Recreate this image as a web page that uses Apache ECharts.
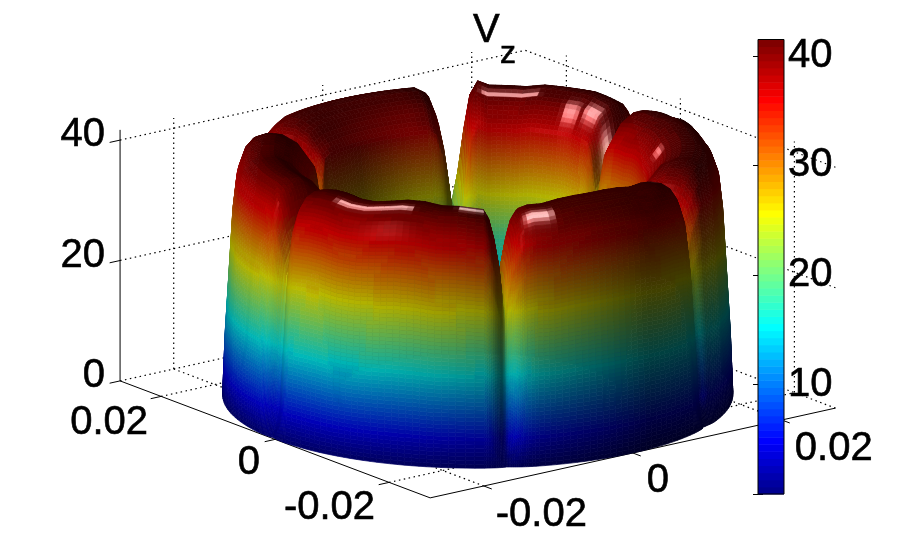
<!DOCTYPE html>
<html><head><meta charset="utf-8">
<style>html,body{margin:0;padding:0;background:#fff}#c{width:922px;height:558px}</style>
<script src="https://cdn.jsdelivr.net/npm/echarts@6/dist/echarts.min.js"></script>
</head><body><div id="c"></div>
<script>
// ---- values ----
const xTicks = [-0.02, 0, 0.02];
const yTicks = [-0.02, 0, 0.02];
const zTicks = [0, 20, 40];
const axisLimit = 0.0272;
const ringRadius = 0.0272;
// angle around the ring (0 = right of picture, 90 = back, 270 = front)
const thetaDeg = [0,5,10,15,20,25,30,35,
 40,41.5,42.8,44,45,46,47.2,48.5,50,
 54,58,62,67,72,77,82,87,90,
 92,93.5,95,96.5,98,99,100.5,102,104,
 107,112,117,122,127,132,137,142,148,
 154,155.5,156.8,158,159,160,161.2,162.5,164,
 167,171,175,180,185,190,195,200,205,208,
 211,212.5,213.8,215,216,217,218.2,219.5,221,
 226,230,235,240,245,250,255,260,265,
 271.5,273,274.3,275.5,276.5,277.5,278.7,280,281.5,
 284,288,293,298,303,308,313,318,323,
 328,329.5,330.8,332,333,334,335.2,336.5,338,
 342,346,350,355];
// crest height of the velocity at each angle
const rimZ = [41,41,41,41,41.5,41.5,41,41,
 40.5,39,36,32,22,32,36,39,40.5,
 41,41.5,41.5,41.5,41.5,41,41,41,41.7,
 39.5,34,27,22,22,27,33,37,40,
 41,41,41,41,41,41,41,41,41,
 40.5,39,36,32,24,32,36,39,40.5,
 41,41.5,41,40.5,40.5,41,41,41,41,41,
 40.5,39,36,32,26,32,36,39,40.5,
 41,41,40.5,40.5,41,41.5,41.5,41,41,
 40.5,39,36,32,26,32,36,39,40.5,
 41,41,41.5,41.7,41.7,41.7,41.5,41,41,
 40.5,39,36,32,24,32,36,39,40.5,
 41,41.5,41,41];
// outer wall radius (fraction of ringRadius) at each angle
const outerR = [1,1,1,1,1,1,1,1,
 .995,.992,.99,.985,.975,.985,.99,.992,.995,
 1,1,1,1,1,1,1,1,1,
 .995,.99,.985,.98,.98,.985,.99,.995,1,
 1,1,1,1,1,1,1,1,1,
 .995,.992,.99,.985,.975,.985,.99,.992,.995,
 1,1,1,1,1,1,1,1,1,1,
 .998,.995,.99,.98,.962,.975,.985,.993,.998,
 1,1,1,1,1,1,1,1,1,
 .998,.995,.99,.98,.96,.968,.98,.99,.996,
 1,1,1,1,1,1,1,1,1,
 .998,.995,.99,.985,.955,.965,.975,.99,1,
 1,1,1,1];
// height-fraction / radius-fraction profile going from outer edge over the crest to the hole
const profZ = [0,.25,.5,.75,.88,.95,.985,1,1,.97,.88,.6,.3,0];
const profR = [1,.99,.975,.96,.945,.92,.89,.85,.80,.74,.67,.63,.60,.56];
// small bright spots on the crest: from angle, to angle, radius fraction, strength, radial width
const glints = [[232,252,.875,.8,.012],[266,270,.83,.8,.02],[283,288,.89,.8,.02],[44,47,.74,.6,.03],[51,54,.74,.7,.03],[58,61,.72,.6,.03],[73,88,.775,.7,.012],[8,12,.72,.5,.015],[329,332,.82,.6,.015]];

// ---- view ----
const cx=477.75, cy=394.5, pxX=[7450,-1650], pxY=[-5700,-2150], pxZ=6.02;
const project=(x,y,z)=>[cx+x*pxX[0]+y*pxY[0], cy+x*pxX[1]+y*pxY[1]-z*pxZ];
const el=Math.asin(73.7/255), sinE=Math.sin(el), cosE=Math.cos(el), azim=37.4, colorMax=41.5;
const rad=d=>d*Math.PI/180;
const clamp01=v=>Math.max(0,Math.min(1,v));
function jet(k){ // MATLAB jet(64), k in 0..63
  const v=(k+1)/64*4;
  return [clamp01(Math.min(v-1.5,4.5-v)),clamp01(Math.min(v-.5,3.5-v)),clamp01(Math.min(v+.5,2.5-v))];
}
const rgb=(a)=>'rgb('+a.map(v=>Math.round(clamp01(v)*255)).join(',')+')';

// ---- mesh built from the arrays ----
const rowsZ=[],rowsR=[];
for(let s=0;s<profZ.length-1;s++){
  const n=Math.max(3,Math.ceil(Math.abs(profZ[s+1]-profZ[s])*64));
  for(let k=0;k<n;k++){const f=k/n;rowsZ.push(profZ[s]+(profZ[s+1]-profZ[s])*f);rowsR.push(profR[s]+(profR[s+1]-profR[s])*f);}
}
rowsZ.push(profZ[profZ.length-1]);rowsR.push(profR[profR.length-1]);
const nT=thetaDeg.length,nR=rowsZ.length,zIso=pxZ/cosE,aIso=255;
const grid=[];
for(let i=0;i<nT;i++){grid.push([]);for(let j=0;j<nR;j++){
  const t=rad(thetaDeg[i]),dent=(1-outerR[i])*Math.min(1,.25+rowsZ[j]*5),r=(1-dent)*rowsR[j],z=rimZ[i]*rowsZ[j];
  grid[i].push({t:thetaDeg[i],rf:r,z:z,X:aIso*r*Math.cos(t),Y:aIso*r*Math.sin(t),Zw:z*zIso});
}}
for(let i=0;i<nT;i++)for(let j=0;j<nR;j++){
  const a=grid[(i+1)%nT][j],b=grid[(i-1+nT)%nT][j],c=grid[i][Math.min(j+1,nR-1)],d=grid[i][Math.max(j-1,0)];
  const u=[a.X-b.X,a.Y-b.Y,a.Zw-b.Zw],v=[c.X-d.X,c.Y-d.Y,c.Zw-d.Zw];
  let n=[u[1]*v[2]-u[2]*v[1],u[2]*v[0]-u[0]*v[2],u[0]*v[1]-u[1]*v[0]];
  const l=Math.hypot(n[0],n[1],n[2])||1;grid[i][j].n0=n.map(q=>q/l);
}
for(let i=0;i<nT;i++)for(let j=0;j<nR;j++){
  const a=grid[(i+1)%nT][j].n0,b=grid[(i-1+nT)%nT][j].n0,c=grid[i][j].n0;
  let n=[0,1,2].map(q=>a[q]+b[q]+2*c[q]);const l=Math.hypot(...n)||1;grid[i][j].n=n.map(q=>q/l);
}
const tL=rad(222),eL=rad(22);
const L=[Math.cos(tL)*Math.cos(eL),Math.sin(tL)*Math.cos(eL),Math.sin(eL)];
const V=[0,-cosE,sinE];
let H=[L[0]+V[0],L[1]+V[1],L[2]+V[2]];const hl=Math.hypot(...H);H=H.map(q=>q/hl);
const dot=(a,b)=>a[0]*b[0]+a[1]*b[1]+a[2]*b[2];
const ka=.25,kd=.5,ks=.1,shin=200;
const toScreen=p=>{const ph=rad(p.t-azim),r=p.rf*ringRadius;return project(r*Math.cos(ph),r*Math.sin(ph),p.z);};
const lerpP=(a,b,f,tb)=>({t:a.t+(tb-a.t)*f,rf:a.rf+(b.rf-a.rf)*f,z:a.z+(b.z-a.z)*f,Y:a.Y+(b.Y-a.Y)*f,Zw:a.Zw+(b.Zw-a.Zw)*f,
  n:[a.n[0]+(b.n[0]-a.n[0])*f,a.n[1]+(b.n[1]-a.n[1])*f,a.n[2]+(b.n[2]-a.n[2])*f]});
function glintAt(t,rf,z){
  if(z<30)return 0;let g=0;
  glints.forEach(q=>{const tw=q[1]-q[0],tc=(q[0]+q[1])/2;
    const e=Math.max(0,Math.abs(t-tc)-tw/2)/1.2,dr=(rf-q[2])/q[4];
    g=Math.max(g,q[3]*Math.exp(-e*e-dr*dr));});
  return g;
}
const cells=[];
const sub=3;
for(let i=0;i<nT;i++){
  const i2=(i+1)%nT,t2=thetaDeg[i2]+(i2===0?360:0);
  for(let s=0;s<sub;s++){
    const f0=s/sub,f1=(s+1)/sub;
    for(let j=0;j<nR-1;j++){
      const p00=lerpP(grid[i][j],grid[i2][j],f0,t2),p10=lerpP(grid[i][j],grid[i2][j],f1,t2),
            p01=lerpP(grid[i][j+1],grid[i2][j+1],f0,t2),p11=lerpP(grid[i][j+1],grid[i2][j+1],f1,t2);
      let n=[0,1,2].map(q=>p00.n[q]+p10.n[q]+p01.n[q]+p11.n[q]);const l=Math.hypot(...n)||1;n=n.map(q=>q/l);
      if(dot(n,V)<-0.25)continue;
      const z=(p00.z+p10.z+p01.z+p11.z)/4;
      const k=Math.min(63,Math.floor(z/colorMax*64));
      const diff=Math.max(0,dot(n,L)),sp=Math.pow(Math.max(0,dot(n,H)),shin);
      const gl=glintAt((p00.t+p11.t)/2,(p00.rf+p11.rf)/2,z);
      const base=jet(k).map(c=>c*(ka+kd*diff)+ks*sp+gl);
      const depth=(p00.Y+p11.Y)/2*cosE-(p00.Zw+p11.Zw)/2*sinE;
      cells.push({d:depth,c:rgb(base),p:[p00,p10,p11,p01].map(toScreen)});
    }
  }
}
cells.sort((a,b)=>b.d-a.d);
const surfaceData=cells.map((c,i)=>[i]);

// ---- frame ----
const LIM=axisLimit,zTop=41.7;
const frameSolid=[[[-LIM,LIM,0],[-LIM,LIM,zTop]],[[-LIM,LIM,0],[-LIM,-LIM,0]],[[-LIM,-LIM,0],[LIM,-LIM,0]]];
const frameDotted=[];
zTicks.forEach(z=>{frameDotted.push([[-LIM,LIM,z],[LIM,LIM,z]]);frameDotted.push([[LIM,LIM,z],[LIM,-LIM,z]]);});
xTicks.forEach(x=>{frameDotted.push([[x,LIM,0],[x,LIM,zTop]]);frameDotted.push([[x,-LIM,0],[x,LIM,0]]);});
yTicks.forEach(y=>{frameDotted.push([[LIM,y,0],[LIM,y,zTop]]);frameDotted.push([[-LIM,y,0],[LIM,y,0]]);});
xTicks.forEach(x=>frameSolid.push([[x,-LIM,0],[x,-LIM-0.0014,0]]));
yTicks.forEach(y=>frameSolid.push([[-LIM,y,0],[-LIM-0.0014,y,0]]));
zTicks.forEach(z=>frameSolid.push([[-LIM,LIM,z],[-LIM-0.0014,LIM,z]]));

const font='Liberation Sans';
const sz=40;
const option={
  animation:false,backgroundColor:'#fff',
  title:[
    {text:'V',left:473,top:11,textStyle:{fontFamily:font,fontSize:40,fontWeight:'normal',color:'#000',textBorderColor:'#000',textBorderWidth:.6},padding:0},
    {text:'z',left:500,top:38,textStyle:{fontFamily:font,fontSize:32,fontWeight:'normal',color:'#000',textBorderColor:'#000',textBorderWidth:.6},padding:0}
  ],
  grid:[
    {left:0,top:0,width:922,height:558,show:false},
    {left:758,top:39.5,width:26,height:454.5,show:true,borderColor:'#000',borderWidth:1,backgroundColor:'transparent',z:5}
  ],
  xAxis:[
    {type:'value',gridIndex:0,min:0,max:922,show:false},
    {type:'value',gridIndex:1,min:0,max:1,show:false}
  ],
  yAxis:[
    {type:'value',gridIndex:0,min:0,max:558,inverse:true,show:false},
    {type:'value',gridIndex:1,min:0,max:colorMax,interval:10,position:'right',
      axisLine:{show:true,lineStyle:{color:'#000',width:1}},splitLine:{show:false},
      axisTick:{show:true,inside:true,length:5,lineStyle:{color:'#000',width:1}},
      axisLabel:{show:true,inside:false,margin:4,color:'#000',fontFamily:font,fontSize:sz,textBorderColor:'#000',textBorderWidth:.6,formatter:v=>v===0?'':String(v)}},
    {type:'value',gridIndex:1,min:0,max:colorMax,interval:10,position:'left',
      axisLine:{show:true,lineStyle:{color:'#000',width:1}},splitLine:{show:false},
      axisTick:{show:true,inside:true,length:5,lineStyle:{color:'#000',width:1}},axisLabel:{show:false}}
  ],
  series:[
    {name:'frame',type:'custom',coordinateSystem:'cartesian2d',xAxisIndex:0,yAxisIndex:0,silent:true,clip:false,z:1,
      data:[[0]],renderItem:(p,api)=>{
        const seg=(s,st)=>{const a=api.coord(project(...s[0])),b=api.coord(project(...s[1]));
          return {type:'line',shape:{x1:a[0],y1:a[1],x2:b[0],y2:b[1]},style:st};};
        return {type:'group',children:[
          ...frameDotted.map(s=>seg(s,{stroke:'#000',lineWidth:1.2,lineDash:[1.5,3.5]})),
          ...frameSolid.map(s=>seg(s,{stroke:'#000',lineWidth:1}))]};
      }},
    {name:'Vz',type:'custom',coordinateSystem:'cartesian2d',xAxisIndex:0,yAxisIndex:0,silent:true,clip:false,z:2,progressive:0,
      data:surfaceData,renderItem:(p,api)=>{
        const c=cells[api.value(0)];
        return {type:'polygon',shape:{points:c.p.map(q=>api.coord(q))},style:{fill:c.c,stroke:c.c,lineWidth:.7}};
      }},
    {name:'ticklabels',type:'custom',coordinateSystem:'cartesian2d',xAxisIndex:0,yAxisIndex:0,silent:true,clip:false,z:6,
      data:[[0]],renderItem:(p,api)=>{
        const kids=[];
        const txt=(v,w,align,dx,dy)=>{const q=api.coord(project(...w));
          kids.push({type:'text',style:{text:String(v),x:q[0]+dx,y:q[1]+dy,align:align,verticalAlign:'middle',fill:'#000',stroke:'#000',lineWidth:.6,font:sz+'px "'+font+'"'}});};
        zTicks.forEach(z=>txt(z,[-LIM,LIM,z],'right',-15,-5));
        const xd=[[12,29],[14,28],[13,29]];
        xTicks.forEach((v,i)=>txt(v,[v,-LIM,0],'left',xd[i][0],xd[i][1]));
        const yd=[[-14,26],[-15,24],[-13,27]];
        yTicks.forEach((v,i)=>txt(v,[-LIM,v,0],'right',yd[i][0],yd[i][1]));
        return {type:'group',children:kids};
      }},
    {name:'colorbar',type:'custom',coordinateSystem:'cartesian2d',xAxisIndex:1,yAxisIndex:1,silent:true,z:4,
      data:Array.from({length:64},(_,k)=>[k]),renderItem:(p,api)=>{
        const k=api.value(0),a=api.coord([0,k/64*colorMax]),b=api.coord([1,(k+1)/64*colorMax]);
        const col=rgb(jet(k));
        return {type:'rect',shape:{x:a[0],y:b[1],width:b[0]-a[0],height:a[1]-b[1]+.5},style:{fill:col}};
      }}
  ]
};
const chart=echarts.init(document.getElementById('c'),null,{renderer:'canvas'});
chart.setOption(option);
</script></body></html>
